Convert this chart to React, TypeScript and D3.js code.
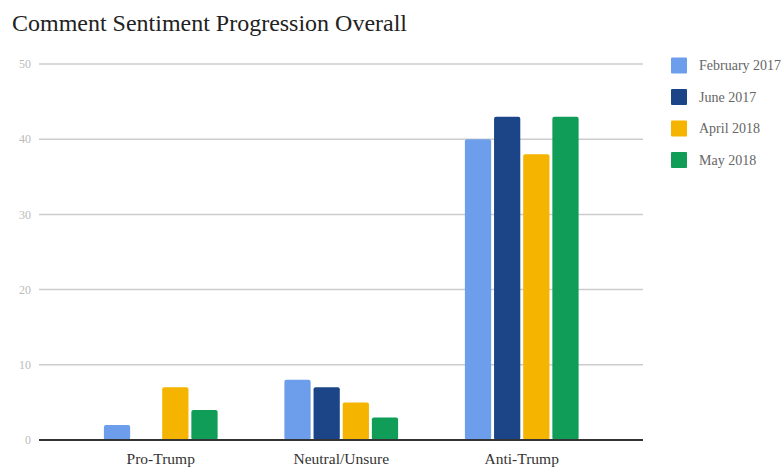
import React from "react";
import * as d3 from "d3";

const categories = ["Pro-Trump", "Neutral/Unsure", "Anti-Trump"];
const seriesNames = ["February 2017", "June 2017", "April 2018", "May 2018"];
const february2017 = [2, 8, 40];
const june2017 = [0, 7, 43];
const april2018 = [7, 5, 38];
const may2018 = [4, 3, 43];
const yTicks = [0, 10, 20, 30, 40, 50];
const colors = ["#6d9eeb", "#1c4587", "#f4b400", "#0f9d58"];

const W = 784;
const H = 467;
const font = "'Liberation Serif', 'DejaVu Serif', serif";

export default function App() {
  const series = [february2017, june2017, april2018, may2018];
  const y = d3.scaleLinear().domain([0, 50]).range([440, 64]);
  const x0 = d3.scaleBand<string>().domain(categories).range([70.5, 612]).paddingInner(0).paddingOuter(0);
  const groupWidth = x0.bandwidth() * 0.63;
  const x1 = d3
    .scaleBand<string>()
    .domain(seriesNames)
    .range([0, groupWidth])
    .paddingInner(0.1)
    .paddingOuter(0);

  return (
    <svg width={W} height={H} style={{ position: "absolute", left: 0, top: 0 }}>
      <rect width={W} height={H} fill="#fff" />
      <text x={12} y={31} fontFamily={font} fontSize={23.5} fill="#222" textLength={395} lengthAdjust="spacingAndGlyphs">
        Comment Sentiment Progression Overall
      </text>
      {yTicks.map((t) => (
        <g key={t}>
          {t !== 0 && (
            <line x1={39} x2={643} y1={y(t)} y2={y(t)} stroke="#cccccc" strokeWidth={1.5} />
          )}
          <text
            x={31}
            y={y(t)}
            dy="0.35em"
            textAnchor="end"
            fontFamily={font}
            fontSize={12}
            fill="#bbbbbb"
          >
            {t}
          </text>
        </g>
      ))}
      {categories.map((c, ci) => {
        const gx = (x0(c) as number) + (x0.bandwidth() - groupWidth) / 2;
        return (
          <g key={c}>
            {series.map((s, si) => {
              const v = s[ci];
              if (v <= 0) return null;
              const bx = gx + (x1(seriesNames[si]) as number);
              return (
                <rect
                  key={si}
                  x={bx}
                  y={y(v)}
                  width={x1.bandwidth()}
                  height={y(0) - y(v)}
                  rx={2}
                  fill={colors[si]}
                />
              );
            })}
            <text
              x={(x0(c) as number) + x0.bandwidth() / 2}
              y={464}
              textAnchor="middle"
              fontFamily={font}
              fontSize={15.5}
              fill="#333"
            >
              {c}
            </text>
          </g>
        );
      })}
      <line x1={39} x2={643} y1={y(0)} y2={y(0)} stroke="#333" strokeWidth={2} />
      {seriesNames.map((n, i) => {
        const cy = 65.5 + i * 31.5;
        return (
          <g key={n}>
            <rect x={671} y={cy - 8} width={16} height={16} rx={1} fill={colors[i]} />
            <text x={699} y={cy} dy="0.35em" fontFamily={font} fontSize={14} fill="#666">
              {n}
            </text>
          </g>
        );
      })}
    </svg>
  );
}
